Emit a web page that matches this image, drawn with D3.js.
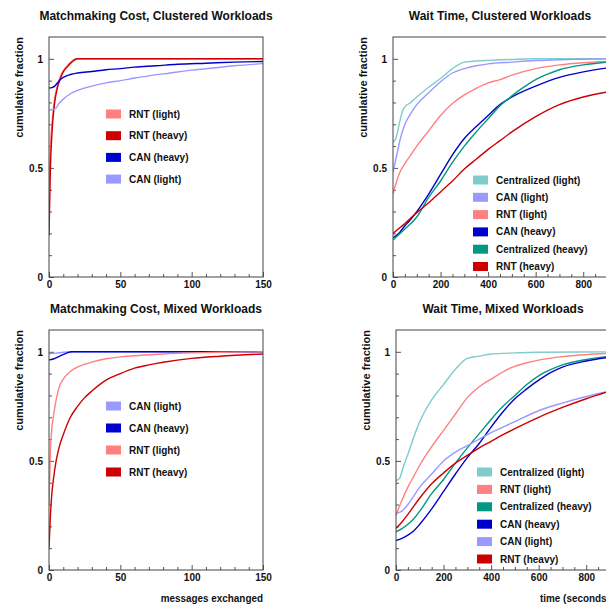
<!DOCTYPE html>
<html><head><meta charset="utf-8">
<script src="https://cdn.jsdelivr.net/npm/d3@7/dist/d3.min.js"></script>
<style>
html,body{margin:0;padding:0;background:#fff;}
text{font-family:"Liberation Sans",Arial,Helvetica,sans-serif;fill:#111;}
</style></head>
<body>
<svg id="chart" width="606" height="605"></svg>
<script>
// ---------- DATA ----------
const titles = ["Matchmaking Cost, Clustered Workloads","Wait Time, Clustered Workloads","Matchmaking Cost, Mixed Workloads","Wait Time, Mixed Workloads"];
const yLabel = "cumulative fraction";
const xLabels = ["messages exchanged","time (seconds)"];
const yTicks = [0, 0.5, 1];
const yTickLabels = ["0","0.5","1"];
const costTicks = [0, 50, 100, 150];
const timeTicks = [0, 200, 400, 600, 800];

// Panel 1: Matchmaking Cost, Clustered
const p1Series = ["RNT (light)","RNT (heavy)","CAN (heavy)","CAN (light)"];
const p1RntLight = [[0,0.4],[1,0.6],[2,0.7],[3,0.77],[4,0.82],[6,0.88],[8,0.92],[10,0.945],[13,0.97],[16,0.99],[19,1.0],[150,1.0]];
const p1RntHeavy = [[0,0.19],[1,0.5],[2,0.65],[3,0.74],[4,0.8],[6,0.87],[8,0.91],[10,0.94],[13,0.965],[16,0.985],[20,1.0],[150,1.0]];
const p1CanHeavy = [[0,0.866],[2,0.868],[4,0.875],[6,0.89],[8,0.905],[10,0.915],[15,0.928],[20,0.935],[30,0.942],[40,0.95],[50,0.955],[60,0.962],[75,0.968],[90,0.975],[110,0.98],[130,0.985],[150,0.988]];
const p1CanLight = [[0,0.765],[3,0.768],[5,0.775],[7,0.795],[10,0.815],[15,0.84],[20,0.855],[30,0.875],[40,0.89],[50,0.9],[60,0.912],[70,0.922],[85,0.935],[100,0.948],[115,0.958],[130,0.968],[150,0.978]];

// Panel 2: Wait Time, Clustered
const p2Series = ["Centralized (light)","CAN (light)","RNT (light)","CAN (heavy)","Centralized (heavy)","RNT (heavy)"];
const p2CentLight = [[0,0.62],[10,0.63],[20,0.67],[30,0.72],[40,0.76],[50,0.78],[75,0.8],[100,0.825],[150,0.87],[200,0.91],[250,0.955],[300,0.985],[350,0.99],[400,0.993],[500,0.997],[600,1.0],[900,1.0]];
const p2CanLight = [[0,0.48],[10,0.53],[20,0.58],[30,0.63],[50,0.7],[75,0.75],[100,0.79],[150,0.845],[200,0.895],[250,0.935],[300,0.955],[350,0.968],[400,0.977],[500,0.985],[600,0.992],[700,0.996],[800,0.998],[900,1.0]];
const p2RntLight = [[0,0.38],[10,0.42],[25,0.47],[50,0.52],[75,0.56],[100,0.6],[150,0.67],[200,0.74],[250,0.795],[300,0.835],[350,0.865],[400,0.89],[450,0.905],[500,0.925],[600,0.955],[700,0.972],[800,0.982],[900,0.988]];
const p2CanHeavy = [[0,0.18],[25,0.2],[50,0.235],[75,0.265],[100,0.3],[150,0.38],[200,0.47],[250,0.56],[300,0.635],[350,0.69],[400,0.74],[450,0.79],[500,0.825],[600,0.875],[700,0.915],[800,0.94],[900,0.958]];
const p2CentHeavy = [[0,0.17],[25,0.195],[50,0.22],[100,0.275],[150,0.365],[200,0.44],[250,0.525],[300,0.6],[350,0.665],[400,0.725],[450,0.785],[500,0.83],[550,0.87],[600,0.905],[650,0.93],[700,0.95],[800,0.972],[900,0.985]];
const p2RntHeavy = [[0,0.2],[50,0.245],[100,0.295],[150,0.34],[200,0.39],[250,0.44],[300,0.495],[350,0.54],[400,0.585],[450,0.625],[500,0.665],[600,0.735],[700,0.79],[800,0.825],[900,0.848]];

// Panel 3: Matchmaking Cost, Mixed
const p3Series = ["CAN (light)","CAN (heavy)","RNT (light)","RNT (heavy)"];
const p3CanLight = [[0,0.992],[5,0.994],[10,0.998],[15,1.0],[150,1.0]];
const p3CanHeavy = [[0,0.963],[3,0.967],[7.5,0.98],[12,0.993],[16,1.0],[150,1.0]];
const p3RntLight = [[0,0.3],[1,0.55],[2,0.65],[3,0.7],[5,0.78],[7.5,0.845],[10,0.875],[15,0.91],[20,0.93],[25,0.943],[30,0.953],[40,0.968],[50,0.977],[60,0.982],[80,0.99],[100,0.995],[120,0.998],[150,1.0]];
const p3RntHeavy = [[0,0.1],[1,0.25],[2,0.35],[3,0.41],[5,0.5],[7,0.56],[10,0.62],[15,0.7],[20,0.75],[25,0.79],[30,0.82],[40,0.87],[50,0.9],[60,0.925],[70,0.94],[80,0.952],[100,0.97],[120,0.98],[150,0.99]];

// Panel 4: Wait Time, Mixed
const p4Series = ["Centralized (light)","RNT (light)","Centralized (heavy)","CAN (heavy)","CAN (light)","RNT (heavy)"];
const p4CentLight = [[0,0.41],[15,0.42],[30,0.47],[50,0.53],[75,0.61],[100,0.68],[150,0.78],[200,0.85],[250,0.92],[300,0.97],[350,0.98],[400,0.99],[500,0.995],[600,0.998],[900,1.0]];
const p4RntLight = [[0,0.25],[25,0.32],[50,0.38],[75,0.43],[100,0.48],[150,0.565],[200,0.64],[250,0.715],[300,0.79],[350,0.84],[400,0.875],[480,0.925],[550,0.95],[600,0.962],[700,0.978],[800,0.987],[900,0.993]];
const p4CentHeavy = [[0,0.175],[25,0.19],[50,0.21],[75,0.235],[100,0.27],[150,0.35],[200,0.415],[250,0.49],[300,0.56],[350,0.625],[400,0.69],[450,0.75],[500,0.8],[550,0.85],[600,0.89],[650,0.918],[700,0.94],[800,0.965],[900,0.98]];
const p4CanHeavy = [[0,0.135],[25,0.145],[50,0.16],[75,0.18],[100,0.21],[150,0.28],[200,0.36],[250,0.44],[300,0.515],[350,0.58],[400,0.655],[450,0.725],[500,0.785],[550,0.83],[600,0.87],[650,0.905],[700,0.93],[800,0.958],[900,0.975]];
const p4CanLight = [[0,0.26],[25,0.27],[50,0.3],[75,0.34],[100,0.38],[150,0.44],[200,0.5],[250,0.54],[300,0.57],[350,0.6],[400,0.63],[450,0.655],[500,0.68],[600,0.73],[700,0.765],[800,0.795],[900,0.82]];
const p4RntHeavy = [[0,0.19],[25,0.22],[50,0.255],[100,0.33],[150,0.395],[200,0.445],[250,0.49],[300,0.525],[350,0.56],[400,0.59],[450,0.62],[500,0.648],[600,0.7],[700,0.745],[800,0.785],[900,0.82]];

// ---------- STYLE ----------
const colors = {
  "RNT (light)":"#ff8080","RNT (heavy)":"#cc0000",
  "CAN (light)":"#9999ff","CAN (heavy)":"#0000cc",
  "Centralized (light)":"#80cccc","Centralized (heavy)":"#009980"
};
const condense = 0.9;

const panels = [
  {title:titles[0], box:[49,263,37,277], xDom:[0,150], xTicks:costTicks, minorStep:10, series:p1Series,
   data:[p1RntLight,p1RntHeavy,p1CanHeavy,p1CanLight], legend:{x:106,y:114,dy:21.7}, xLabel:null},
  {title:titles[1], box:[393,607,37,277], xDom:[0,900], xTicks:timeTicks, minorStep:50, series:p2Series,
   data:[p2CentLight,p2CanLight,p2RntLight,p2CanHeavy,p2CentHeavy,p2RntHeavy], legend:{x:473,y:180,dy:17.3}, xLabel:null},
  {title:titles[2], box:[49,263,330,570], xDom:[0,150], xTicks:costTicks, minorStep:10, series:p3Series,
   data:[p3CanLight,p3CanHeavy,p3RntLight,p3RntHeavy], legend:{x:106,y:406,dy:22}, xLabel:{text:xLabels[0], x:263, anchor:"end"}},
  {title:titles[3], box:[396,610,330,570], xDom:[0,900], xTicks:timeTicks, minorStep:50, series:p4Series,
   data:[p4CentLight,p4RntLight,p4CentHeavy,p4CanHeavy,p4CanLight,p4RntHeavy], legend:{x:477,y:472,dy:17.4}, xLabel:{text:xLabels[1], x:540, anchor:"start"}}
];

const svg = d3.select("#chart");
function squeeze(sel){
  sel.each(function(){
    const w = this.getComputedTextLength();
    d3.select(this).attr("textLength", w*condense).attr("lengthAdjust","spacingAndGlyphs");
  });
}

panels.forEach((p,pi) => {
  const [x0,x1,y0,y1] = p.box;
  const x = d3.scaleLinear().domain(p.xDom).range([x0,x1]);
  const y = d3.scaleLinear().domain([0,1.1]).range([y1,y0]);
  const g = svg.append("g");

  // title
  g.append("text").attr("x",(x0+x1)/2).attr("y",y0-17).attr("text-anchor","middle")
    .style("font-size","12px").style("font-weight","bold").text(p.title);

  // clip
  const cid = "clip"+pi;
  svg.append("clipPath").attr("id",cid).append("rect").attr("x",x0).attr("y",y0).attr("width",x1-x0).attr("height",y1-y0);

  const tickText = a => a.selectAll("text").style("font-size","10px").style("font-weight","bold")
      .style("font-family","'Liberation Sans',Arial,sans-serif").attr("fill","#111");

  // minor ticks x
  const minors = d3.range(p.xDom[0], p.xDom[1]+0.001, p.minorStep).filter(v => !p.xTicks.includes(v));
  g.append("g").attr("transform",`translate(0,${y1})`)
    .call(d3.axisBottom(x).tickValues(minors).tickSizeInner(-3).tickSizeOuter(0).tickFormat(""))
    .call(a => a.select(".domain").remove())
    .call(a => a.selectAll("line").attr("stroke","#555"));
  g.append("g").attr("transform",`translate(0,${y1})`)
    .call(d3.axisBottom(x).tickValues(p.xTicks).tickSizeInner(-5).tickSizeOuter(0).tickPadding(4).tickFormat(d3.format("d")))
    .call(a => a.select(".domain").remove())
    .call(a => a.selectAll("line").attr("stroke","#555"))
    .call(tickText);

  // y ticks
  const yMinors = d3.range(0.1,1.05,0.1).filter(v => Math.abs(v-0.5)>1e-6 && Math.abs(v-1)>1e-6);
  g.append("g").attr("transform",`translate(${x0},0)`)
    .call(d3.axisLeft(y).tickValues(yMinors).tickSizeInner(-3).tickSizeOuter(0).tickFormat(""))
    .call(a => a.select(".domain").remove())
    .call(a => a.selectAll("line").attr("stroke","#555"));
  g.append("g").attr("transform",`translate(${x0},0)`)
    .call(d3.axisLeft(y).tickValues(yTicks).tickSizeInner(-5).tickSizeOuter(0).tickPadding(6).tickFormat((d,i)=>yTickLabels[i]))
    .call(a => a.select(".domain").remove())
    .call(a => a.selectAll("line").attr("stroke","#555"))
    .call(tickText);

  // y label
  g.append("text").attr("transform",`translate(${x0-26},${y0}) rotate(-90)`).attr("text-anchor","end")
    .style("font-size","11px").style("font-weight","bold").text(yLabel);

  // lines
  const line = d3.line().x(d=>x(d[0])).y(d=>y(d[1])).curve(d3.curveMonotoneX);
  const lg = g.append("g").attr("clip-path",`url(#${cid})`);
  p.series.forEach((s,i) => {
    lg.append("path").datum(p.data[i]).attr("d",line).attr("fill","none")
      .attr("stroke",colors[s]).attr("stroke-width",1.4);
  });

  // frame
  g.append("rect").attr("x",x0).attr("y",y0).attr("width",x1-x0).attr("height",y1-y0)
    .attr("fill","none").attr("stroke","#444").attr("stroke-width",1);

  // legend
  p.series.forEach((s,i) => {
    const ly = p.legend.y + i*p.legend.dy;
    g.append("rect").attr("x",p.legend.x).attr("y",ly-4.5).attr("width",15).attr("height",9)
      .attr("fill",colors[s]);
    g.append("text").attr("x",p.legend.x+23).attr("y",ly+3.5)
      .style("font-size","10px").style("font-weight","bold").text(s);
  });

  if (p.xLabel) {
    g.append("text").attr("x",p.xLabel.x).attr("y",602).attr("text-anchor",p.xLabel.anchor)
      .style("font-size","11px").style("font-weight","bold").text(p.xLabel.text).call(squeeze);
  }
});
</script>
</body></html>
